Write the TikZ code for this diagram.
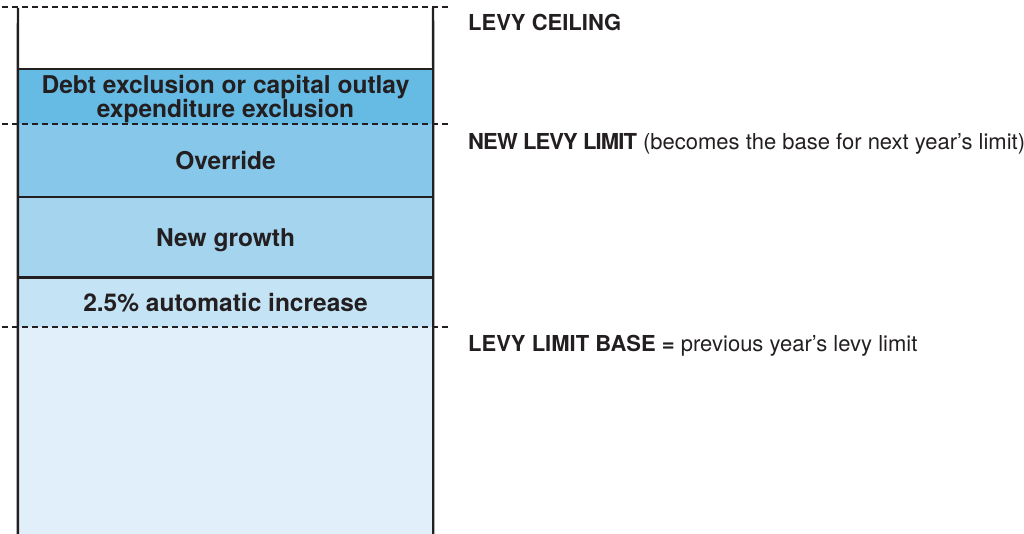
\documentclass[tikz,border=0pt]{standalone}
\usepackage{fontspec}
\setmainfont{TeX Gyre Heros}
\usetikzlibrary{positioning,calc}
\usepackage{xcolor}

\definecolor{inkdark}{HTML}{231F20}
\definecolor{debtblue}{HTML}{66BBE5}
\definecolor{overblue}{HTML}{87C8EA}
\definecolor{growblue}{HTML}{A5D4EF}
\definecolor{autoblue}{HTML}{C4E3F5}
\definecolor{baseblue}{HTML}{E0EFF9}

\newcommand{\tightbf}[1]{{\bfseries\addfontfeatures{LetterSpace=-4}#1}}

\tikzset{
  band/.style={draw=none, inner sep=0pt, minimum width=415pt, align=center,
    text depth=0pt, text=inkdark, font=\fontsize{24.5}{21}\selectfont\bfseries},
  level/.style={draw=inkdark, line width=2.2pt, dash pattern=on 6pt off 4pt},
  frame/.style={draw=inkdark, line width=2.4pt},
  tag/.style={anchor=base west, inner sep=0pt, text=inkdark, font=\fontsize{22}{24}\selectfont}
}

\begin{document}
\begin{tikzpicture}[x=1pt, y=-1pt]
  \useasboundingbox (0,0) rectangle (1024,534);

  % Bands
  \node[band, fill=debtblue, minimum height=55pt] (debt) at (225.5,96.5)
    {Debt exclusion or capital outlay\\expenditure exclusion};
  \node[band, fill=overblue, minimum height=73pt] (over) at (225.5,160.5) {Override};
  \node[band, fill=growblue, minimum height=80pt] (grow) at (225.5,237.5) {New growth};
  \node[band, fill=autoblue, minimum height=50pt] (auto) at (225.5,302) {2.5\% automatic increase};
  \node[band, fill=baseblue, minimum height=207pt] (base) at (225.5,430.5) {};

  % Frame
  \coordinate (topl) at (18,8);
  \coordinate (topr) at (433,8);
  \draw[frame] (topl) -- (debt.north west) -- (base.south west);
  \draw[frame] (topr) -- (debt.north east) -- (base.south east);
  \draw[frame] (debt.north west) -- (debt.north east);
  \draw[frame] (over.south west) -- (over.south east);
  \draw[frame] (grow.south west) -- (grow.south east);

  % Levels
  \coordinate (ceil-l) at (2,7);    \coordinate (ceil-r) at (450,7);
  \coordinate (limit-l) at (2,124); \coordinate (limit-r) at (450,124);
  \coordinate (lbase-l) at (2,327); \coordinate (lbase-r) at (450,327);
  \draw[level] (ceil-l) -- (ceil-r);
  \draw[level] (limit-l) -- (limit-r);
  \draw[level] (lbase-l) -- (lbase-r);

  % Labels
  \node[tag] (ceiling) at (468,31) {\bfseries LEVY CEILING};
  \node[tag] (newlimit) at (468,150) {\tightbf{NEW LEVY LIMIT} (becomes the base for next year’s limit)};
  \node[tag] (limitbase) at (468,351) {\textbf{LEVY LIMIT BASE =} previous year’s levy limit};
\end{tikzpicture}
\end{document}
